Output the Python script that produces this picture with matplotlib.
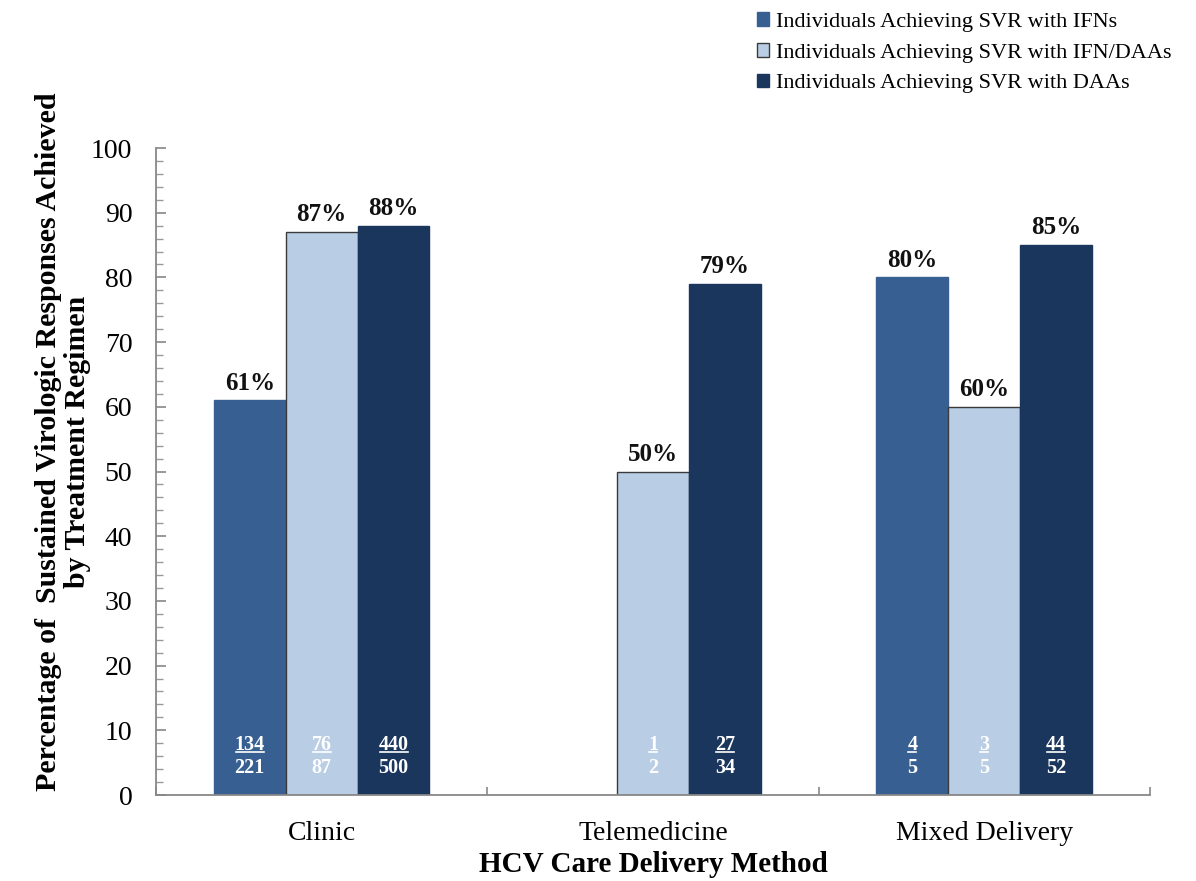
import numpy as np
import matplotlib
matplotlib.use("Agg")
import matplotlib.pyplot as plt
from matplotlib.ticker import MultipleLocator, FixedLocator
from matplotlib.patches import Patch
from matplotlib.lines import Line2D

plt.rcParams['font.family'] = ['Liberation Serif', 'DejaVu Serif']

categories = ['Clinic', 'Telemedicine', 'Mixed Delivery']
series_names = ['Individuals Achieving SVR with IFNs',
                'Individuals Achieving SVR with IFN/DAAs',
                'Individuals Achieving SVR with DAAs']
ifn_pct = [61, np.nan, 80]
ifn_daa_pct = [87, 50, 60]
daa_pct = [88, 79, 85]
ifn_n = [(134, 221), None, (4, 5)]
ifn_daa_n = [(76, 87), (1, 2), (3, 5)]
daa_n = [(440, 500), (27, 34), (44, 52)]

colors = ['#375f92', '#b9cde5', '#1a365d']
edges = ['#375f92', '#3a3a3a', '#1a365d']

fig = plt.figure(figsize=(11.96, 8.81), dpi=100)
ax = fig.add_axes([0.1304, 0.0976, 0.8311, 0.7344])

x = np.arange(len(categories))
width = 0.217
offsets = [-width, 0, width]
pcts = [ifn_pct, ifn_daa_pct, daa_pct]
counts = [ifn_n, ifn_daa_n, daa_n]

numerator_texts = []
for s in range(3):
    vals = np.array(pcts[s], dtype=float)
    ax.bar(x + offsets[s], vals, width, color=colors[s], edgecolor=edges[s],
           linewidth=1.0, zorder=2)
    for i, v in enumerate(vals):
        if np.isnan(v):
            continue
        xc = x[i] + offsets[s]
        ax.text(xc, v + 0.9, f"{int(v)}%", ha='center', va='bottom',
                fontsize=18, fontweight='bold', color='#111111')
        num, den = counts[s][i]
        t = ax.text(xc, 7.7, f"{num}", ha='center', va='center',
                    fontsize=14.5, fontweight='bold', color='white', zorder=3)
        numerator_texts.append(t)
        ax.text(xc, 4.1, f"{den}", ha='center', va='center',
                fontsize=14.5, fontweight='bold', color='white', zorder=3)

ax.set_xlim(-0.5, 2.5)
ax.set_ylim(0, 100)
ax.yaxis.set_major_locator(MultipleLocator(10))
ax.yaxis.set_minor_locator(MultipleLocator(2))
ax.set_xticks(x)
ax.set_xticklabels(categories, fontsize=20)
ax.xaxis.set_minor_locator(FixedLocator([-0.5, 0.5, 1.5, 2.5]))
ax.tick_params(axis='x', which='major', length=0, pad=19)
ax.tick_params(axis='x', which='minor', direction='in', length=6,
               color='#888888', width=1.2)
ax.tick_params(axis='y', which='major', direction='in', length=7,
               color='#888888', width=1.2, labelsize=20, pad=17)
ax.tick_params(axis='y', which='minor', direction='in', length=5,
               color='#999999', width=1.0)
for side in ['top', 'right']:
    ax.spines[side].set_visible(False)
for side in ['left', 'bottom']:
    ax.spines[side].set_color('#888888')
    ax.spines[side].set_linewidth(1.3)

ax.set_xlabel('HCV Care Delivery Method', fontsize=21, fontweight='bold',
              labelpad=3)
ax.set_ylabel('Percentage of  Sustained Virologic Responses Achieved\n'
              'by Treatment Regimen', fontsize=21.5, fontweight='bold',
              linespacing=1.1)
ax.yaxis.set_label_coords(-0.065, 0.546)

handles = [Patch(facecolor=colors[k], edgecolor=edges[k], linewidth=1.0)
           for k in range(3)]
fig.legend(handles, series_names, loc='upper left',
           bbox_to_anchor=(0.622, 1.001), frameon=False, fontsize=16,
           handlelength=0.55, handleheight=0.55, handletextpad=0.3,
           labelspacing=0.5, borderaxespad=0.2)

# underline the numerators, sized from the rendered text extents
fig.canvas.draw()
renderer = fig.canvas.get_renderer()
inv = fig.transFigure.inverted()
for t in numerator_texts:
    bb = t.get_window_extent(renderer)
    (x0, y0), (x1, _) = inv.transform([(bb.x0 + 1, bb.y0 + 3), (bb.x1 - 1, bb.y0 + 3)])
    fig.add_artist(Line2D([x0, x1], [y0, y0], transform=fig.transFigure,
                          color='white', linewidth=1.2, zorder=4))

fig.savefig('out.png', dpi=100, facecolor='white')
